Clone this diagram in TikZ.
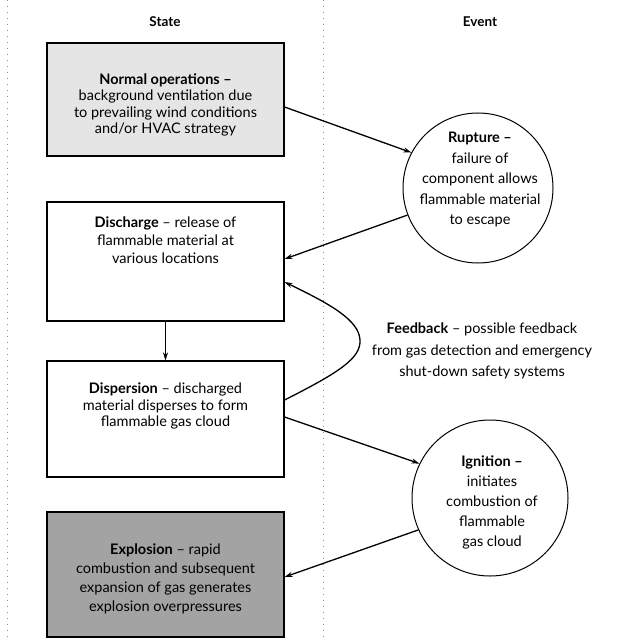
\documentclass[tikz,border=0pt]{standalone}
\usepackage{fontspec}
\setmainfont{Lato}
\usetikzlibrary{arrows.meta,calc}
\begin{document}
\begin{tikzpicture}[x=1pt,y=-1pt,
  statebox/.style={draw=black,line width=1.1pt,minimum width=237pt,inner sep=0pt},
  eventcirc/.style={draw=black,line width=1pt,circle,inner sep=0pt},
  txt/.style={align=center,inner sep=0pt},
  head/.style={font=\bfseries\fontsize{13.5}{15}\selectfont,inner sep=0pt},
  conn/.style={line width=1.3pt,-{Stealth[length=8pt,width=5pt]}},
  guide/.style={black!45,line width=0.6pt,dash pattern=on 1pt off 5pt}]
\useasboundingbox (0,0) rectangle (627,639);
% faint guide lines
\coordinate (gtop) at (323,0);
\coordinate (gbot) at (323,639);
\draw[guide] (gtop) -- (gbot);
\coordinate (ltop) at (7,0);
\coordinate (lbot) at (7,639);
\draw[guide] (ltop) -- (lbot);
% headers
\node[head] (hstate) at (165,22) {State};
\node[head] (hevent) at (480,22) {Event};
% state boxes
\node[statebox,minimum height=113pt,fill=black!10] (box1) at (165.5,99.5) {};
\node[statebox,minimum height=119pt] (box2) at (165.5,261.5) {};
\node[statebox,minimum height=116pt] (box3) at (165.5,419) {};
\node[statebox,minimum height=125pt,fill=black!36] (box4) at (165.5,574.5) {};
\node[txt,font=\fontsize{14.5}{16.5}\selectfont] (t1) at (165.5,105) {\textbf{Normal operations –}\\background ventilation due\\to prevailing wind conditions\\and/or HVAC strategy};
\node[txt,font=\fontsize{14.5}{18}\selectfont] (t2) at (165.5,240) {\textbf{Discharge} – release of\\flammable material at\\various locations};
\node[txt,font=\fontsize{14.5}{16.5}\selectfont] (t3) at (165.5,406) {\textbf{Dispersion} – discharged\\material disperses to form\\flammable gas cloud};
\node[txt,font=\fontsize{14.5}{19}\selectfont] (t4) at (165.5,579) {\textbf{Explosion} – rapid\\combustion and subsequent\\expansion of gas generates\\explosion overpressures};
% event circles
\node[eventcirc,minimum size=150pt] (rup) at (478,188) {};
\node[eventcirc,minimum size=156pt] (ign) at (490,498) {};
\node[txt,font=\fontsize{14.5}{20.5}\selectfont] (tr) at (480,180) {\textbf{Rupture –}\\failure of\\component allows\\flammable material\\to escape};
\node[txt,font=\fontsize{14.5}{20}\selectfont] (ti) at (492,502) {\textbf{Ignition –}\\initiates\\combustion of\\flammable\\gas cloud};
% feedback text
\node[txt,font=\fontsize{14.5}{21.5}\selectfont] (tf) at (482,351) {\textbf{Feedback} – possible feedback\\from gas detection and emergency\\shut-down safety systems};
% connectors
\draw[conn] ([yshift=-7.5pt]box1.east) -- (rup.152);
\draw[conn] (rup.201) -- ([yshift=2.5pt]box2.east);
\draw[conn] (box2.south) -- (box3.north);
\coordinate (fbmid) at (360,340);
\draw[conn] ([yshift=19pt]box3.east) .. controls (340,372) and (361,358) .. (fbmid) .. controls (359,320) and (330,304) .. ([yshift=-20.5pt]box2.east);
\draw[conn] ([yshift=2pt]box3.east) -- (ign.154);
\draw[conn] (ign.204) -- ([yshift=-2.5pt]box4.east);
\end{tikzpicture}
\end{document}
